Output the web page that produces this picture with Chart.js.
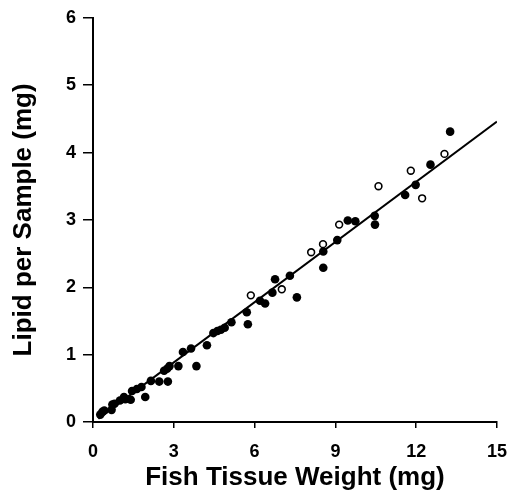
<!DOCTYPE html>
<html>
<head>
<meta charset="utf-8">
<script src="https://cdn.jsdelivr.net/npm/chart.js@4"></script>
<style>
  html, body { margin: 0; padding: 0; background: #fff; }
  #wrap { width: 520px; height: 496px; }
</style>
</head>
<body>
<div id="wrap"><canvas id="chart" width="520" height="496"></canvas></div>
<script>
// values
const filledX = [0.27, 0.35, 0.42, 0.69, 0.72, 0.80, 1.00, 1.15, 1.20, 1.40, 1.45, 1.63, 1.80, 1.94, 2.15, 2.46, 2.78, 2.64, 2.75, 2.84, 3.17, 3.84, 3.34, 3.64, 4.23, 4.47, 4.62, 4.75, 4.89, 5.14, 5.71, 5.75, 6.20, 6.39, 6.66, 6.76, 7.31, 7.57, 8.55, 8.55, 9.07, 9.46, 9.74, 10.46, 10.47, 11.59, 11.98, 12.53, 13.26];
const filledY = [0.11, 0.15, 0.17, 0.18, 0.26, 0.27, 0.32, 0.37, 0.34, 0.33, 0.46, 0.49, 0.52, 0.37, 0.61, 0.60, 0.60, 0.76, 0.79, 0.83, 0.83, 0.83, 1.04, 1.09, 1.14, 1.32, 1.35, 1.37, 1.40, 1.48, 1.63, 1.45, 1.80, 1.76, 1.92, 2.12, 2.17, 1.85, 2.53, 2.29, 2.70, 2.99, 2.98, 3.06, 2.93, 3.37, 3.52, 3.82, 4.31];

const openX = [5.86, 7.01, 8.10, 8.54, 9.14, 10.60, 11.80, 12.22, 13.05];
const openY = [1.88, 1.97, 2.52, 2.64, 2.93, 3.50, 3.73, 3.32, 3.98];

// fitted line end points
const lineX = [0.2, 15];
const lineY = [0.05, 4.46];

const xTicks = [0, 3, 6, 9, 12, 15];
const yTicks = [0, 1, 2, 3, 4, 5, 6];

const xTitle = 'Fish Tissue Weight (mg)';
const yTitle = 'Lipid per Sample (mg)';

const toPoints = (xs, ys) => xs.map((x, i) => ({ x: x, y: ys[i] }));

const tickFont = { family: 'Liberation Sans', size: 18, weight: 'bold' };
const titleFont = { family: 'Liberation Sans', size: 26, weight: 'bold' };

new Chart(document.getElementById('chart').getContext('2d'), {
    type: 'scatter',
    data: {
        datasets: [
            {
                label: 'fit',
                type: 'line',
                data: toPoints(lineX, lineY),
                borderColor: '#000',
                borderWidth: 2,
                pointRadius: 0,
                fill: false,
                order: 3
            },
            {
                label: 'filled',
                data: toPoints(filledX, filledY),
                pointRadius: 4.3,
                pointBackgroundColor: '#000',
                pointBorderColor: '#000',
                pointBorderWidth: 0,
                order: 2
            },
            {
                label: 'open',
                data: toPoints(openX, openY),
                pointRadius: 3.4,
                pointBackgroundColor: '#fff',
                pointBorderColor: '#000',
                pointBorderWidth: 1.6,
                order: 1
            }
        ]
    },
    options: {
        responsive: false,
        animation: false,
        layout: { padding: { top: 13, right: 17, left: 0, bottom: 0 } },
        plugins: {
            legend: { display: false },
            tooltip: { enabled: false }
        },
        scales: {
            x: {
                type: 'linear',
                min: 0,
                max: 15,
                afterBuildTicks: s => { s.ticks = xTicks.map(v => ({ value: v })); },
                afterFit: s => { s.height = 74; },
                grid: { drawOnChartArea: false, drawTicks: true, tickLength: 6, color: '#000', lineWidth: 1.5 },
                border: { display: true, color: '#000', width: 2 },
                ticks: { color: '#000', font: tickFont, padding: 13, maxRotation: 0 },
                title: { display: true, text: xTitle, color: '#000', font: titleFont, padding: { top: 0, bottom: 3 } }
            },
            y: {
                type: 'linear',
                min: 0,
                max: 6,
                afterBuildTicks: s => { s.ticks = yTicks.map(v => ({ value: v })); },
                afterFit: s => { s.width = 93; },
                grid: { drawOnChartArea: false, drawTicks: true, tickLength: 10, color: '#000', lineWidth: 1.5 },
                border: { display: true, color: '#000', width: 2 },
                ticks: { color: '#000', font: tickFont, padding: 7 },
                title: { display: true, text: yTitle, color: '#000', font: titleFont, padding: { top: 8, bottom: 0 } }
            }
        }
    }
});
</script>
</body>
</html>
